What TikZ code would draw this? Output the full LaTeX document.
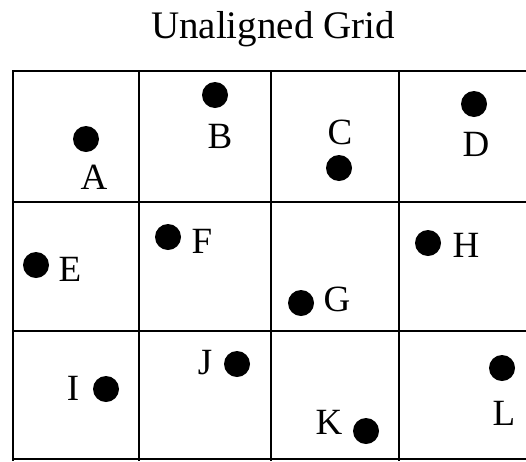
\documentclass[tikz,border=0pt]{standalone}
\usepackage{fontspec}
\setmainfont{Liberation Serif}
\begin{document}
\begin{tikzpicture}[x=1pt,y=-1pt,
  gridline/.style={line width=2.8pt,black},
  dot/.style={circle,fill=black,inner sep=0pt,minimum size=26pt},
  lab/.style={inner sep=0pt,font=\fontsize{37}{37}\selectfont},
  ttl/.style={inner sep=0pt,anchor=base,font=\fontsize{39}{39}\selectfont}]
\useasboundingbox (0,0) rectangle (526,461);
% grid
\foreach \yy in {71,202,331,459} \draw[gridline] (13,\yy) -- (530,\yy);
\foreach \xx in {13,139,271,399} \draw[gridline] (\xx,70) -- (\xx,461);
% title
\node[ttl] (title) at (273,38) {Unaligned Grid};
% dots and labels
\node[dot] (dA) at (86,139) {};  \node[lab] (lA) at (94,177) {A};
\node[dot] (dB) at (215,95) {};  \node[lab] (lB) at (220,136) {B};
\node[dot] (dC) at (339,168) {}; \node[lab] (lC) at (340,132) {C};
\node[dot] (dD) at (474,104) {}; \node[lab] (lD) at (476,144) {D};
\node[dot] (dE) at (36,265) {};  \node[lab] (lE) at (70,269) {E};
\node[dot] (dF) at (168,237) {}; \node[lab] (lF) at (202,241) {F};
\node[dot] (dG) at (301,303) {}; \node[lab] (lG) at (337,299) {G};
\node[dot] (dH) at (428,243) {}; \node[lab] (lH) at (466,245) {H};
\node[dot] (dI) at (106,389) {}; \node[lab] (lI) at (73,388) {I};
\node[dot] (dJ) at (237,364) {}; \node[lab] (lJ) at (205,363) {J};
\node[dot] (dK) at (366,431) {}; \node[lab] (lK) at (329,422) {K};
\node[dot] (dL) at (502,368) {}; \node[lab] (lL) at (504,413) {L};
\end{tikzpicture}
\end{document}
